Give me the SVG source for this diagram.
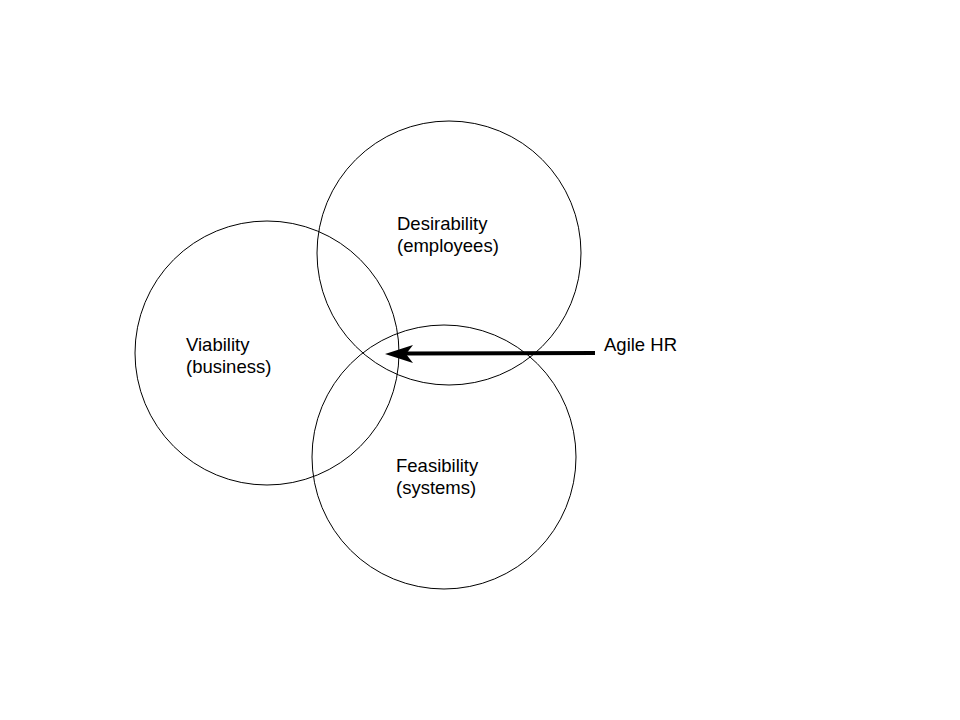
<svg xmlns="http://www.w3.org/2000/svg" width="960" height="720" viewBox="0 0 960 720">
<style>
.c{fill:none;stroke:#000;stroke-width:1}
.t{font-family:"Liberation Sans",Arial,sans-serif;font-size:18.5px;fill:#000}
</style>
<rect width="960" height="720" fill="#fff"/>
<g id="viability"><circle class="c" cx="267" cy="353" r="132"/><text class="t" x="186" y="351">Viability</text><text class="t" x="186" y="373">(business)</text></g>
<g id="desirability"><circle class="c" cx="449" cy="253" r="132"/><text class="t" x="397" y="230">Desirability</text><text class="t" x="397" y="252">(employees)</text></g>
<g id="feasibility"><circle class="c" cx="444" cy="457" r="132"/><text class="t" x="396" y="472">Feasibility</text><text class="t" x="396" y="494">(systems)</text></g>
<g id="agile"><text class="t" x="604" y="351">Agile HR</text></g>
<g id="connectors"><line x1="595" y1="353" x2="405" y2="353.5" stroke="#000" stroke-width="4"/><polygon points="385,354 413,345 406,354 413,363" fill="#000"/></g>
</svg>
